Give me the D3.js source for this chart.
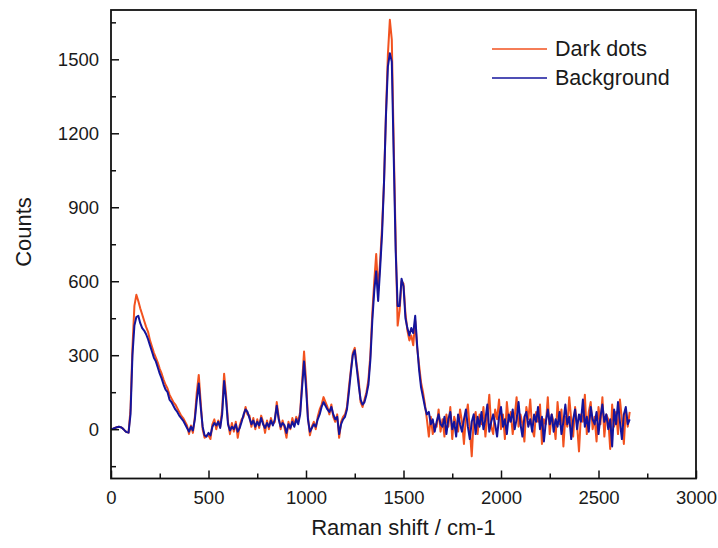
<!DOCTYPE html>
<html>
<head>
<meta charset="utf-8">
<script src="https://cdn.jsdelivr.net/npm/d3@7"></script>
<style>
  body { margin: 0; background: #fff; }
  text { font-family: Arial, "Liberation Sans", sans-serif; fill: #1a1a1a; }
</style>
</head>
<body>
<svg></svg>
<script>
  let w = 718;
  let h = 548;

// Raman shift sampling (cm-1), one value every 10 cm-1 from 0 to 2660
const shiftStart = 0;
const shiftStep = 10;

// Background spectrum (counts)
const background = [
  0, 2, 5, 8, 10, 8, 3, -5, -12, -14,
  60, 300, 420, 455, 460, 430, 410, 400, 385, 365,
  340, 315, 290, 275, 250, 225, 205, 180, 160, 150,
  120, 110, 95, 80, 70, 55, 45, 35, 20, 5,
  -10, 10, -5, 40, 120, 185, 90, 10, -25, -30,
  -15, -25, 10, 25, 15, 30, 5, 60, 195, 120,
  20, -5, 10, 0, 20, -10, 5, 30, 60, 80,
  70, 45, 20, 35, 10, 30, 15, 45, 20, 5,
  25, 10, 35, 15, 40, 95, 40, 10, 25, 15,
  -15, 20, 5, 30, 10, 40, 20, 60, 170, 275,
  170, 40, -10, 5, 20, 10, 40, 60, 90, 110,
  95, 80, 70, 90, 60, 40, 50, -20, 20, 40,
  50, 80, 150, 230, 300, 320, 250, 180, 120, 100,
  110, 140, 180, 280, 440, 560, 640, 520, 650, 790,
  1000, 1270, 1470, 1525, 1490, 1100, 720, 500, 500, 610,
  580, 450, 410, 380, 410, 390, 460, 340, 240, 170,
  130, 90, 60, 70, 20, 40, -10, 30, 60, 20,
  10, 50, -20, 40, 70, 0, 30, -30, 60, 20,
  -10, 40, 80, 10, -40, 30, 60, -20, 50, 10,
  70, 0, 40, 100, -10, 30, 60, 20, -30, 50,
  90, 10, 40, -20, 60, 30, 80, 0, 40, 110,
  20, -30, 50, 70, 10, 40, -10, 60, 30, 90,
  0, 50, -50, 30, 80, 20, 60, -10, 40, 10,
  70, -20, 30, 100, 20, 50, -40, 40, 80, 0,
  60, 30, 120, 10, 50, -10, 90, 40, 20, 70,
  -20, 50, 100, 30, 60, 0, 40, -70, 80, 20,
  110, 30, -40, 60, 90, 20, 40
];

// Dark dots spectrum (counts)
const darkDots = [
  0, 2, 5, 8, 10, 8, 3, -5, -12, -14,
  80, 330, 500, 545, 520, 490, 465, 440, 415, 395,
  360, 335, 310, 290, 270, 245, 225, 200, 180, 165,
  140, 125, 110, 100, 85, 70, 55, 45, 30, 15,
  -20, 15, -15, 50, 150, 220, 110, 0, -35, -25,
  -25, -40, 20, 40, 0, 35, 10, 80, 225, 140,
  30, -20, 25, -10, 30, -35, 15, 40, 50, 90,
  60, 55, 10, 45, 0, 40, 5, 55, 30, -15,
  35, 0, 45, 20, 30, 110, 50, 0, 35, 5,
  -35, 30, 0, 45, 15, 50, 30, 70, 190, 315,
  200, 50, -25, 10, 30, 0, 50, 80, 100, 130,
  110, 90, 60, 100, 50, 30, 60, -35, 30, 50,
  60, 90, 170, 240, 310, 330, 260, 200, 110, 90,
  120, 150, 200, 300, 470, 600, 710, 560, 680, 820,
  1000, 1280, 1520, 1660, 1580, 1150, 760, 420, 480, 600,
  590, 470, 400, 360, 380, 340, 440, 330, 260, 190,
  150, 100, 40, -30, 50, -20, 20, 10, 80, -10,
  40, -30, 60, 10, 90, -40, 50, 20, -10, 80,
  30, -60, 50, 100, 0, -110, 40, 70, -20, 60,
  20, 90, -30, 50, 140, 10, -20, 80, 40, 120,
  0, 60, -40, 110, 30, 70, -20, 50, 130, 10,
  60, 20, -50, 90, 40, 120, 0, -30, 70, 30,
  100, -60, 40, 20, 130, -20, 60, 30, -40, 110,
  20, 80, -70, 50, 10, 130, 40, -30, 90, 20,
  -90, 60, 30, 140, -20, 70, 110, 0, 50, -50,
  90, 20, 130, -30, 60, 40, -80, 100, 10, 70,
  -20, 120, 40, -60, 80, 10, 70
];

// Axis ticks
const xTicks = [0, 500, 1000, 1500, 2000, 2500, 3000];
const xMinor = [250, 750, 1250, 1750, 2250, 2750];
const yTicks = [0, 300, 600, 900, 1200, 1500];
const yMinor = [-150, 150, 450, 750, 1050, 1350, 1650];

const seriesNames = ['Dark dots', 'Background'];
const seriesColors = ['#f2521f', '#14149c'];

const shift = background.map((d, i) => shiftStart + i * shiftStep);

const pLeft = 111, pRight = 696, pTop = 10, pBottom = 478.5;

const svg = d3.select('svg')
  .attr('width', w)
  .attr('height', h)

// Create Scales
const xScale = d3.scaleLinear()
  .domain([0, 3000])
  .range([pLeft, pRight])

const yScale = d3.scaleLinear()
  .domain([-200, 1700])
  .range([pBottom, pTop])

// Draw spectra (dark dots underneath, background on top)
const line = d3.line()
  .x((d, i) => xScale(shift[i]))
  .y(d => yScale(d))

;[darkDots, background].forEach((values, k) => {
  svg.append('path')
    .datum(values)
    .attr('fill', 'none')
    .attr('stroke', seriesColors[k])
    .attr('stroke-width', 2)
    .attr('stroke-linejoin', 'round')
    .attr('d', line)
})

// Draw Axes (ticks point inward)
const xAxis = d3.axisBottom(xScale)
  .tickValues(xTicks)
  .tickFormat(d3.format('d'))
  .tickSizeInner(-8)
  .tickSizeOuter(0)
  .tickPadding(12)

svg.append('g')
  .attr('transform', 'translate(0,' + pBottom + ')')
  .attr('id', 'x-axis')
  .call(xAxis)

svg.append('g')
  .attr('transform', 'translate(0,' + pBottom + ')')
  .call(d3.axisBottom(xScale).tickValues(xMinor).tickSizeInner(-5).tickSizeOuter(0).tickFormat(''))

const yAxis = d3.axisLeft(yScale)
  .tickValues(yTicks)
  .tickFormat(d3.format('d'))
  .tickSizeInner(-8)
  .tickSizeOuter(0)
  .tickPadding(12)

svg.append('g')
  .attr('transform', 'translate(' + pLeft + ',0)')
  .attr('id', 'y-axis')
  .call(yAxis)

svg.append('g')
  .attr('transform', 'translate(' + pLeft + ',0)')
  .call(d3.axisLeft(yScale).tickValues(yMinor).tickSizeInner(-5).tickSizeOuter(0).tickFormat(''))

svg.selectAll('.domain').remove()
svg.selectAll('.tick line').attr('stroke', '#111').attr('stroke-width', 1.5)
svg.selectAll('.tick text').style('font-size', '18.5px').attr('fill', '#1a1a1a')

// Frame
svg.append('rect')
  .attr('x', pLeft)
  .attr('y', pTop)
  .attr('width', pRight - pLeft)
  .attr('height', pBottom - pTop)
  .attr('fill', 'none')
  .attr('stroke', '#111')
  .attr('stroke-width', 1.8)

// Axis titles
svg.append('text')
  .attr('x', (pLeft + pRight) / 2)
  .attr('y', 535)
  .attr('text-anchor', 'middle')
  .style('font-size', '22px')
  .text('Raman shift / cm-1')

svg.append('text')
  .attr('transform', 'translate(31,' + 232 + ') rotate(-90)')
  .attr('text-anchor', 'middle')
  .style('font-size', '22px')
  .text('Counts')

// Legend
seriesNames.forEach((name, k) => {
  const y = 49 + k * 29;
  svg.append('line')
    .attr('x1', 492).attr('x2', 547)
    .attr('y1', y).attr('y2', y)
    .attr('stroke', seriesColors[k])
    .attr('stroke-width', 1.6)
  svg.append('text')
    .attr('x', 555)
    .attr('y', y + 7)
    .style('font-size', '21.5px')
    .text(name)
})
</script>
</body>
</html>
